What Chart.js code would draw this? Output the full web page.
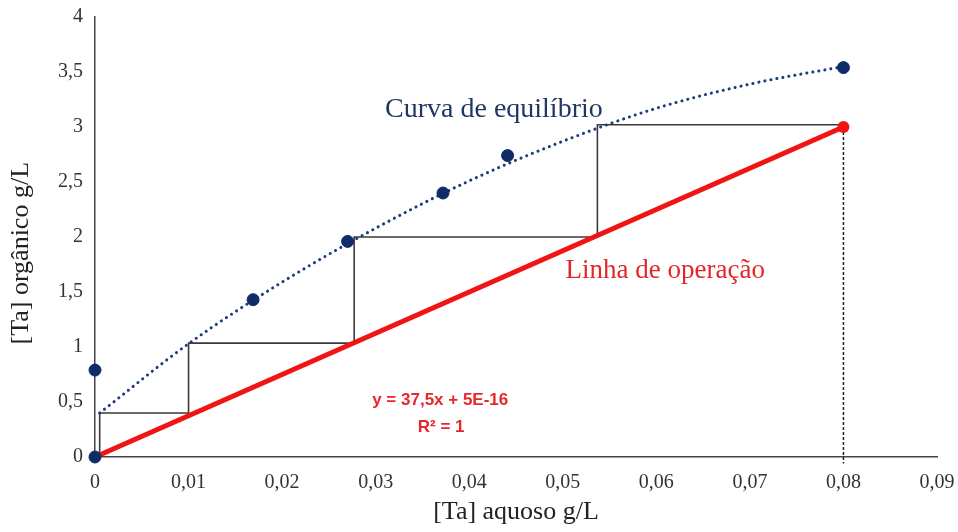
<!DOCTYPE html>
<html>
<head>
<meta charset="utf-8">
<script src="https://cdn.jsdelivr.net/npm/chart.js@4.4.0/dist/chart.umd.min.js"></script>
<style>
  html, body { margin: 0; padding: 0; background: #fff; }
  #wrap { width: 958px; height: 532px; }
</style>
</head>
<body>
<div id="wrap"><canvas id="chart" width="958" height="532"></canvas></div>
<script>
// equilibrium points (aqueous g/L vs organic g/L)
const eqX = [0, 0, 0.0169, 0.0270, 0.0372, 0.0441, 0.0800];
const eqY = [0, 0.79, 1.43, 1.96, 2.40, 2.74, 3.54];

// dotted trend curve
const trendX = [0.0005, 0.01, 0.02, 0.03, 0.04, 0.05, 0.06, 0.07, 0.08];
const trendY = [0.40, 1.03, 1.59, 2.08, 2.51, 2.87, 3.17, 3.39, 3.55];

// operating line
const opX = [0, 0.08];
const opY = [0, 3];

// McCabe-Thiele style steps
const stepX = [0.0005, 0.0005, 0.0100, 0.0100, 0.0277, 0.0277, 0.0537, 0.0537, 0.0800];
const stepY = [0, 0.40, 0.40, 1.035, 1.035, 2.00, 2.00, 3.02, 3.02];

// dashed drop line at the feed
const dropX = [0.08, 0.08];
const dropY = [3, -0.06];

const xTicks = [0, 0.01, 0.02, 0.03, 0.04, 0.05, 0.06, 0.07, 0.08, 0.09];
const yTicks = [0, 0.5, 1, 1.5, 2, 2.5, 3, 3.5, 4];

const pts = (xs, ys) => xs.map((x, i) => ({ x, y: ys[i] }));
const comma = v => String(Number(v.toFixed(2))).replace('.', ',');

const NAVY = '#0f2b68';
const RED = '#f01414';

const labels = [
  { text: 'Curva de equilíbrio', x: 0.0310, y: 3.09, align: 'left', font: '28px "Liberation Serif", serif', color: '#1f3864' },
  { text: 'Linha de operação', x: 0.0503, y: 1.63, align: 'left', font: '27px "Liberation Serif", serif', color: '#e3262b' },
  { text: 'y = 37,5x + 5E-16', x: 0.0369, y: 0.47, align: 'center', font: 'bold 17px "Liberation Sans", sans-serif', color: '#e8262b' },
  { text: 'R² = 1', x: 0.0370, y: 0.225, align: 'center', font: 'bold 17px "Liberation Sans", sans-serif', color: '#e8262b' },
];

const textPlugin = {
  id: 'texts',
  afterDatasetsDraw(chart) {
    const { ctx, scales: { x, y } } = chart;
    ctx.save();
    labels.forEach(l => {
      ctx.font = l.font;
      ctx.fillStyle = l.color;
      ctx.textAlign = l.align;
      ctx.textBaseline = 'alphabetic';
      ctx.fillText(l.text, x.getPixelForValue(l.x), y.getPixelForValue(l.y));
    });
    ctx.restore();
  }
};

new Chart(document.getElementById('chart'), {
  type: 'scatter',
  data: {
    datasets: [
      {
        label: 'Equilíbrio',
        data: pts(eqX, eqY),
        backgroundColor: NAVY,
        borderColor: NAVY,
        pointRadius: 6,
        showLine: false,
      },
      {
        label: 'Operação',
        data: pts(opX, opY),
        showLine: true,
        borderColor: RED,
        backgroundColor: RED,
        borderWidth: 5,
        pointRadius: [0, 6],
        pointBorderWidth: 0,
      },
      {
        label: 'Tendência',
        data: pts(trendX, trendY),
        showLine: true,
        borderColor: '#1e3c7a',
        borderWidth: 3,
        borderDash: [0.1, 6],
        borderCapStyle: 'round',
        cubicInterpolationMode: 'monotone',
        pointRadius: 0,
      },
      {
        label: 'Degraus',
        data: pts(stepX, stepY),
        showLine: true,
        borderColor: '#3a3a3a',
        borderWidth: 1.6,
        pointRadius: 0,
        tension: 0,
      },
      {
        label: 'Queda',
        data: pts(dropX, dropY),
        showLine: true,
        borderColor: '#222',
        borderWidth: 1.5,
        borderDash: [3, 2],
        pointRadius: 0,
      },
    ]
  },
  options: {
    responsive: false,
    animation: false,
    clip: false,
    layout: { padding: { top: 17, right: 21, left: 0, bottom: 0 } },
    plugins: { legend: { display: false }, tooltip: { enabled: false } },
    scales: {
      x: {
        type: 'linear',
        min: 0, max: 0.09,
        afterBuildTicks: s => { s.ticks = xTicks.map(v => ({ value: v })); },
        afterFit: s => { s.height = 75; s.paddingLeft = 0; s.paddingRight = 0; },
        grid: { display: false, drawTicks: false },
        border: { display: true, color: '#444', width: 1.5 },
        ticks: {
          color: '#333', padding: 14, maxRotation: 0, autoSkip: false,
          font: { family: '"Liberation Serif", serif', size: 20 },
          callback: v => comma(v)
        },
        title: {
          display: true, text: '[Ta] aquoso g/L', color: '#222',
          font: { family: '"Liberation Serif", serif', size: 26 },
          padding: { top: 0, bottom: 4 }
        }
      },
      y: {
        type: 'linear',
        min: 0, max: 4,
        afterBuildTicks: s => { s.ticks = yTicks.map(v => ({ value: v })); },
        afterFit: s => { s.width = 95; s.paddingTop = 0; s.paddingBottom = 0; },
        grid: { display: false, drawTicks: false },
        border: { display: true, color: '#444', width: 1.5 },
        ticks: {
          color: '#333', padding: 12, autoSkip: false,
          font: { family: '"Liberation Serif", serif', size: 20 },
          callback: v => comma(v)
        },
        title: {
          // trailing spaces push the title a little below the axis centre, as in the original
          display: true, text: '[Ta] orgânico g/L     ', color: '#222',
          font: { family: '"Liberation Serif", serif', size: 26 },
          padding: { top: 6, bottom: 0 }
        }
      }
    }
  },
  plugins: [textPlugin]
});
</script>
</body>
</html>
